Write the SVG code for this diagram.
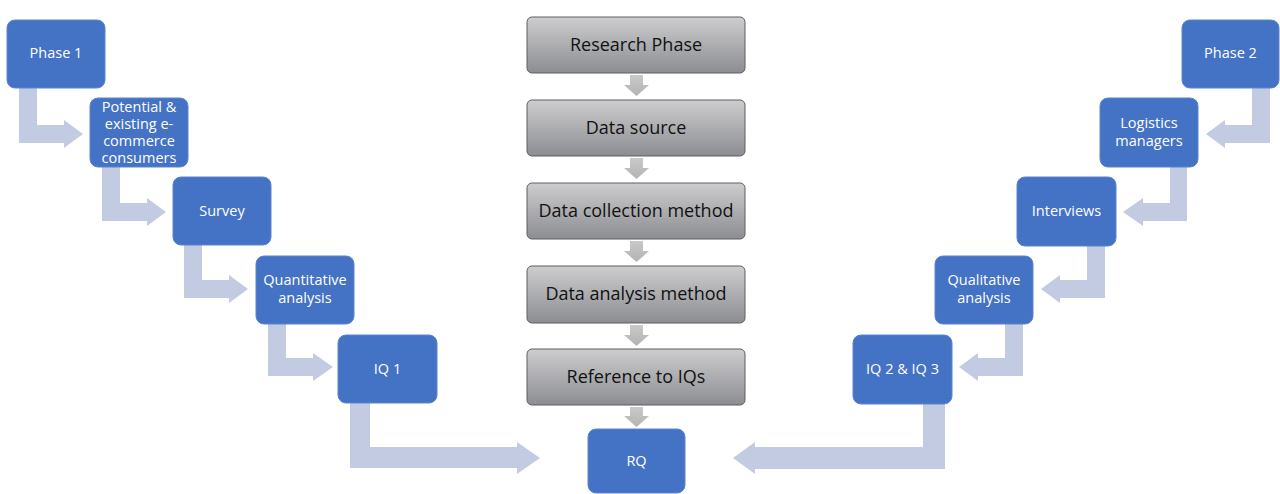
<svg xmlns="http://www.w3.org/2000/svg" width="1280" height="494" viewBox="0 0 1280 494">
  <defs>
    <linearGradient id="grayFill" x1="0" y1="0" x2="0" y2="1">
      <stop offset="0" stop-color="#CDCDCF"/>
      <stop offset="1" stop-color="#8C8D91"/>
    </linearGradient>
    <linearGradient id="downFill" x1="0" y1="0" x2="0" y2="1">
      <stop offset="0" stop-color="#C9C9C9"/>
      <stop offset="1" stop-color="#B3B3B3"/>
    </linearGradient>
    <style>
      .blue { fill: #4472C4; stroke: #5B84CC; stroke-width: 1; }
      .gray { fill: url(#grayFill); stroke: #5E5F63; stroke-width: 1; }
      .bt { font-family: "Open Sans", "Liberation Sans", sans-serif; font-size: 14.5px; font-weight: 500; fill: #FFFFFF; text-anchor: middle; }
      .gt { font-family: "Open Sans", "Liberation Sans", sans-serif; font-size: 18px; fill: #111111; text-anchor: middle; }
      .bend { fill: #C3CBE3; }
      .down { fill: url(#downFill); }
    </style>
  </defs>
  <rect width="1280" height="494" fill="#FFFFFF"/>

  <!-- connectors -->
  <g id="connectors">
    <!-- left branch bent arrows -->
    <path class="bend" d="M19,88 H37 V125 H64 V120 L83,134 L64,148 V143 H19 Z"/>
    <path class="bend" d="M102,167 H120 V203 H147 V198 L166,212 L147,226 V221 H102 Z"/>
    <path class="bend" d="M184,245 H202 V280 H229 V275 L248,289 L229,303 V298 H184 Z"/>
    <path class="bend" d="M268,324 H286 V358 H313 V353 L333,367 L313,381 V376 H268 Z"/>
    <path class="bend" d="M350,403 H370 V447 H517 V442 L540,458 L517,474 V468 H350 Z"/>
    <!-- right branch bent arrows -->
    <path class="bend" d="M1270,88 H1252 V125 H1225 V120 L1206,134 L1225,148 V143 H1270 Z"/>
    <path class="bend" d="M1187,167 H1170 V203 H1143 V198 L1123,212 L1143,226 V221 H1187 Z"/>
    <path class="bend" d="M1105,246 H1087 V280 H1060 V275 L1041,289 L1060,303 V298 H1105 Z"/>
    <path class="bend" d="M1023,324 H1005 V358 H978 V353 L959,367 L978,381 V376 H1023 Z"/>
    <path class="bend" d="M945,404 H923 V447 H755 V442 L733,458 L755,474 V469 H945 Z"/>
    <!-- central down arrows -->
    <path class="down" d="M630,75 H643 V85 H649 L636.5,96 L624,85 H630 Z"/>
    <path class="down" d="M630,158 H643 V168 H649 L636.5,179 L624,168 H630 Z"/>
    <path class="down" d="M630,241 H643 V251 H649 L636.5,262 L624,251 H630 Z"/>
    <path class="down" d="M630,325 H643 V335 H649 L636.5,346 L624,335 H630 Z"/>
    <path class="down" d="M630,407 H643 V416 H649 L636.5,427 L624,416 H630 Z"/>
  </g>

  <!-- central column -->
  <g id="research-phase">
    <rect class="gray" x="527" y="17" width="218" height="56" rx="5"/>
    <text class="gt" x="636" y="51">Research Phase</text>
  </g>
  <g id="data-source">
    <rect class="gray" x="527" y="100" width="218" height="56" rx="5"/>
    <text class="gt" x="636" y="134">Data source</text>
  </g>
  <g id="data-collection">
    <rect class="gray" x="527" y="183" width="218" height="56" rx="5"/>
    <text class="gt" x="636" y="217">Data collection method</text>
  </g>
  <g id="data-analysis">
    <rect class="gray" x="527" y="266" width="218" height="57" rx="5"/>
    <text class="gt" x="636" y="300">Data analysis method</text>
  </g>
  <g id="reference">
    <rect class="gray" x="527" y="349" width="218" height="56" rx="5"/>
    <text class="gt" x="636" y="383">Reference to IQs</text>
  </g>
  <g id="rq">
    <rect class="blue" x="588" y="429" width="97" height="64" rx="8"/>
    <text class="bt" x="636.5" y="466">RQ</text>
  </g>

  <!-- left branch -->
  <g id="phase1">
    <rect class="blue" x="7" y="20" width="98" height="68" rx="8"/>
    <text class="bt" x="56" y="58">Phase 1</text>
  </g>
  <g id="consumers">
    <rect class="blue" x="90" y="98" width="98" height="69" rx="8"/>
    <text class="bt" x="139" y="112">Potential &amp;</text>
    <text class="bt" x="139" y="129">existing e-</text>
    <text class="bt" x="139" y="146">commerce</text>
    <text class="bt" x="139" y="163">consumers</text>
  </g>
  <g id="survey">
    <rect class="blue" x="173" y="177" width="98" height="68" rx="8"/>
    <text class="bt" x="222" y="216">Survey</text>
  </g>
  <g id="quantitative">
    <rect class="blue" x="256" y="256" width="98" height="68" rx="8"/>
    <text class="bt" x="305" y="285">Quantitative</text>
    <text class="bt" x="305" y="303">analysis</text>
  </g>
  <g id="iq1">
    <rect class="blue" x="338" y="335" width="99" height="68" rx="8"/>
    <text class="bt" x="387.5" y="374">IQ 1</text>
  </g>

  <!-- right branch -->
  <g id="phase2">
    <rect class="blue" x="1182" y="20" width="97" height="68" rx="8"/>
    <text class="bt" x="1230.5" y="58">Phase 2</text>
  </g>
  <g id="logistics">
    <rect class="blue" x="1100" y="98" width="98" height="69" rx="8"/>
    <text class="bt" x="1149" y="128">Logistics</text>
    <text class="bt" x="1149" y="146">managers</text>
  </g>
  <g id="interviews">
    <rect class="blue" x="1017" y="177" width="99" height="69" rx="8"/>
    <text class="bt" x="1066.5" y="216">Interviews</text>
  </g>
  <g id="qualitative">
    <rect class="blue" x="935" y="256" width="98" height="68" rx="8"/>
    <text class="bt" x="984" y="285">Qualitative</text>
    <text class="bt" x="984" y="303">analysis</text>
  </g>
  <g id="iq23">
    <rect class="blue" x="853" y="335" width="99" height="69" rx="8"/>
    <text class="bt" x="902.5" y="374">IQ 2 &amp; IQ 3</text>
  </g>
</svg>
